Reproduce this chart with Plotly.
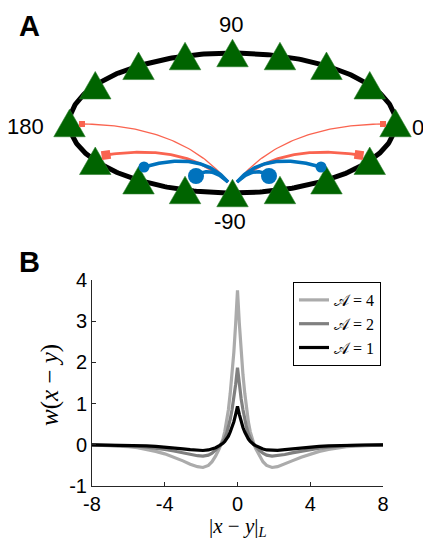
import numpy as np
import plotly.graph_objects as go

# ---------------- Panel B data ----------------
dist = [-8, -7, -6.5, -6, -5.5, -5, -4.5, -4, -3.5, -3, -2.6, -2.2, -1.9, -1.6, -1.4, -1.2, -1, -0.9,
        -0.8, -0.7, -0.6, -0.5, -0.4, -0.3, -0.2, -0.1, 0, 0.1, 0.2, 0.3, 0.4, 0.5, 0.6, 0.7, 0.8,
        0.9, 1, 1.2, 1.4, 1.6, 1.9, 2.2, 2.6, 3, 3.5, 4, 4.5, 5, 5.5, 6, 6.5, 7, 8]
w_A4 = [-0.005, -0.02, -0.03, -0.045, -0.07, -0.11, -0.16, -0.22, -0.3, -0.39, -0.47, -0.53, -0.55,
        -0.5, -0.41, -0.27, -0.09, 0.02, 0.14, 0.32, 0.55, 0.85, 1.25, 1.7, 2.25, 2.95, 3.75,
        2.95, 2.25, 1.7, 1.25, 0.85, 0.55, 0.32, 0.14, 0.02, -0.09, -0.27, -0.41, -0.5, -0.55,
        -0.53, -0.47, -0.39, -0.3, -0.22, -0.16, -0.11, -0.07, -0.045, -0.03, -0.02, -0.005]
w_A2 = [-0.003, -0.01, -0.015, -0.022, -0.035, -0.055, -0.08, -0.11, -0.15, -0.195, -0.235, -0.265,
        -0.275, -0.25, -0.205, -0.135, -0.045, 0.01, 0.07, 0.16, 0.27, 0.42, 0.62, 0.85, 1.12, 1.47,
        1.87, 1.47, 1.12, 0.85, 0.62, 0.42, 0.27, 0.16, 0.07, 0.01, -0.045, -0.135, -0.205, -0.25,
        -0.275, -0.265, -0.235, -0.195, -0.15, -0.11, -0.08, -0.055, -0.035, -0.022, -0.015, -0.01,
        -0.003]
w_A1 = [-0.001, -0.005, -0.008, -0.011, -0.018, -0.028, -0.04, -0.055, -0.075, -0.098, -0.118, -0.133,
        -0.138, -0.125, -0.1, -0.07, -0.02, 0.005, 0.035, 0.08, 0.14, 0.21, 0.31, 0.42, 0.56, 0.74,
        0.93, 0.74, 0.56, 0.42, 0.31, 0.21, 0.14, 0.08, 0.035, 0.005, -0.02, -0.07, -0.1, -0.125,
        -0.138, -0.133, -0.118, -0.098, -0.075, -0.055, -0.04, -0.028, -0.018, -0.011, -0.008,
        -0.005, -0.001]
series_names = ["𝒜 = 4", "𝒜 = 2", "𝒜 = 1"]
series_colors = ["#ababab", "#808080", "#000000"]
x_ticks = [-8, -4, 0, 4, 8]
x_ticklabels = ["-8", "-4", "0", "4", "8"]
y_ticks = [-1, 0, 1, 2, 3, 4]
y_ticklabels = ["-1", "0", "1", "2", "3", "4"]

# ---------------- Panel A data (schematic, in pixel units) ----------------
n_neurons = 16
ring_label_text = ["0", "90", "180", "-90"]
ring_label_x = [410, 231, 46, 230]
ring_label_y = [127, 24, 126, 221]
ring_label_anchor = ["left", "center", "right", "center"]
# excitatory (red) connections: end point, control point, line width, end-marker size
exc_end_x = [82, 106, 383, 359]
exc_end_y = [124, 155, 124, 155]
exc_ctrl_x = [182, 185, 283, 280]
exc_ctrl_y = [125, 143, 125, 143]
exc_start_x = [228, 228, 237, 237]
exc_width = [1.3, 2.8, 1.3, 2.8]
exc_tip = [6, 9, 6, 9]
# inhibitory (blue) connections
inh_end_x = [144, 196, 321, 269]
inh_end_y = [167, 176, 167, 176]
inh_ctrl_x = [201, 210, 264, 255]
inh_ctrl_y = [150, 165, 150, 165]
inh_start_x = [228, 228, 237, 237]
inh_dot = [11, 16, 11, 16]

CX, CY, RA, RB = 232.5, 123, 163, 70
START_Y = 182

fig = go.Figure()

# ring
th = np.linspace(0, 2 * np.pi, 400)
fig.add_trace(go.Scatter(x=CX + RA * np.cos(th), y=CY - RB * np.sin(th), mode="lines",
                         line=dict(color="black", width=5), xaxis="x2", yaxis="y2",
                         showlegend=False, hoverinfo="skip"))

# neurons equally spaced along the ring's arc length
tt = np.linspace(0, 2 * np.pi, 20001)
ds = np.hypot(-RA * np.sin(tt), RB * np.cos(tt))
s = np.concatenate([[0], np.cumsum(0.5 * (ds[1:] + ds[:-1]) * np.diff(tt))])
theta_k = np.interp(np.arange(n_neurons) * s[-1] / n_neurons, s, tt)
tw, thh = 31.5, 27.5
px, py = [], []
for t in theta_k:
    cx, cy = CX + RA * np.cos(t), CY - RB * np.sin(t)
    px += [cx, cx + tw / 2, cx - tw / 2, cx, None]
    py += [cy - thh / 2, cy + thh / 2, cy + thh / 2, cy - thh / 2, None]
fig.add_trace(go.Scatter(x=px, y=py, mode="lines", fill="toself", fillcolor="#006400",
                         line=dict(color="#2f7f2f", width=0.6), xaxis="x2", yaxis="y2",
                         showlegend=False, hoverinfo="skip"))


def bez(p0, c, p2, n=60):
    t = np.linspace(0, 1, n)
    return (1 - t) ** 2 * p0 + 2 * t * (1 - t) * c + t ** 2 * p2


for i in range(4):
    bx = bez(exc_start_x[i], exc_ctrl_x[i], exc_end_x[i])
    by = bez(START_Y, exc_ctrl_y[i], exc_end_y[i])
    fig.add_trace(go.Scatter(x=bx, y=by, mode="lines", line=dict(color="#fa6450", width=exc_width[i]),
                             xaxis="x2", yaxis="y2", showlegend=False, hoverinfo="skip"))
    ang = np.degrees(np.arctan2(exc_end_y[i] - exc_ctrl_y[i], exc_end_x[i] - exc_ctrl_x[i]))
    fig.add_trace(go.Scatter(x=[exc_end_x[i]], y=[exc_end_y[i]], mode="markers",
                             marker=dict(symbol="square", size=exc_tip[i], color="#fa6450", angle=ang),
                             xaxis="x2", yaxis="y2", showlegend=False, hoverinfo="skip"))

for i in range(4):
    bx = bez(inh_start_x[i], inh_ctrl_x[i], inh_end_x[i])
    by = bez(START_Y, inh_ctrl_y[i], inh_end_y[i])
    fig.add_trace(go.Scatter(x=bx, y=by, mode="lines", line=dict(color="#0072bd", width=3.5),
                             xaxis="x2", yaxis="y2", showlegend=False, hoverinfo="skip"))
    fig.add_trace(go.Scatter(x=[inh_end_x[i]], y=[inh_end_y[i]], mode="markers",
                             marker=dict(symbol="circle", size=inh_dot[i], color="#0072bd"),
                             xaxis="x2", yaxis="y2", showlegend=False, hoverinfo="skip"))

# ---------------- Panel B traces ----------------
for name, w, col in zip(series_names, [w_A4, w_A2, w_A1], series_colors):
    fig.add_trace(go.Scatter(x=dist, y=w, mode="lines", name=name,
                             line=dict(color=col, width=3.2)))

W, H = 423, 541
annotations = []
for txt, x, y, anc in zip(ring_label_text, ring_label_x, ring_label_y, ring_label_anchor):
    annotations.append(dict(x=x, y=y, xref="x2", yref="y2", text=txt, showarrow=False,
                            xanchor=anc, yanchor="middle",
                            font=dict(family="Liberation Sans", size=22, color="black")))
for txt, y in [("A", 26), ("B", 262)]:
    annotations.append(dict(x=29, y=y, xref="x2", yref="y2", text="<b>%s</b>" % txt, showarrow=False,
                            xanchor="center", yanchor="middle",
                            font=dict(family="Liberation Sans", size=29, color="black")))
annotations.append(dict(x=50, y=385, xref="x2", yref="y2", textangle=-90,
                        text="<i>w</i>(<i>x</i> − <i>y</i>)", showarrow=False,
                        xanchor="center", yanchor="middle",
                        font=dict(family="Liberation Serif", size=25, color="black")))
annotations.append(dict(x=238, y=541, xref="x2", yref="y2",
                        text="|<i>x</i> − <i>y</i>|<sub><i>L</i></sub>", showarrow=False,
                        xanchor="center", yanchor="bottom", borderpad=0,
                        font=dict(family="Liberation Serif", size=21, color="black")))

axis_font = dict(family="Liberation Sans", size=20, color="black")
fig.update_layout(
    width=W, height=H, margin=dict(l=0, r=0, t=0, b=0, autoexpand=False),
    paper_bgcolor="white", plot_bgcolor="rgba(0,0,0,0)",
    xaxis=dict(domain=[92 / W, 383 / W], range=[-8, 8], tickvals=x_ticks, ticktext=x_ticklabels,
               ticks="inside", ticklen=4, tickcolor="#262626", showline=True, linecolor="#262626",
               linewidth=1, showgrid=False, zeroline=False, tickfont=axis_font, anchor="y",
               automargin=False, ticklabelstandoff=0),
    yaxis=dict(domain=[1 - 486 / H, 1 - 280 / H], range=[-1, 4], tickvals=y_ticks, ticktext=y_ticklabels,
               ticks="inside", ticklen=4, tickcolor="#262626", showline=True, linecolor="#262626",
               linewidth=1, showgrid=False, zeroline=False, tickfont=axis_font, anchor="x",
               automargin=False),
    xaxis2=dict(domain=[0, 1], range=[0, W], visible=False, anchor="y2", automargin=False),
    yaxis2=dict(domain=[0, 1], range=[H, 0], visible=False, anchor="x2", automargin=False),
    legend=dict(x=381 / W, y=1 - 282 / H, xanchor="right", yanchor="top", bgcolor="white",
                bordercolor="black", borderwidth=1, tracegroupgap=0, itemwidth=30,
                font=dict(family="Liberation Serif", size=16, color="black")),
    annotations=annotations,
)

fig.write_html("out.html", config={"displayModeBar": False},
               post_script="document.body.style.margin='0';")
